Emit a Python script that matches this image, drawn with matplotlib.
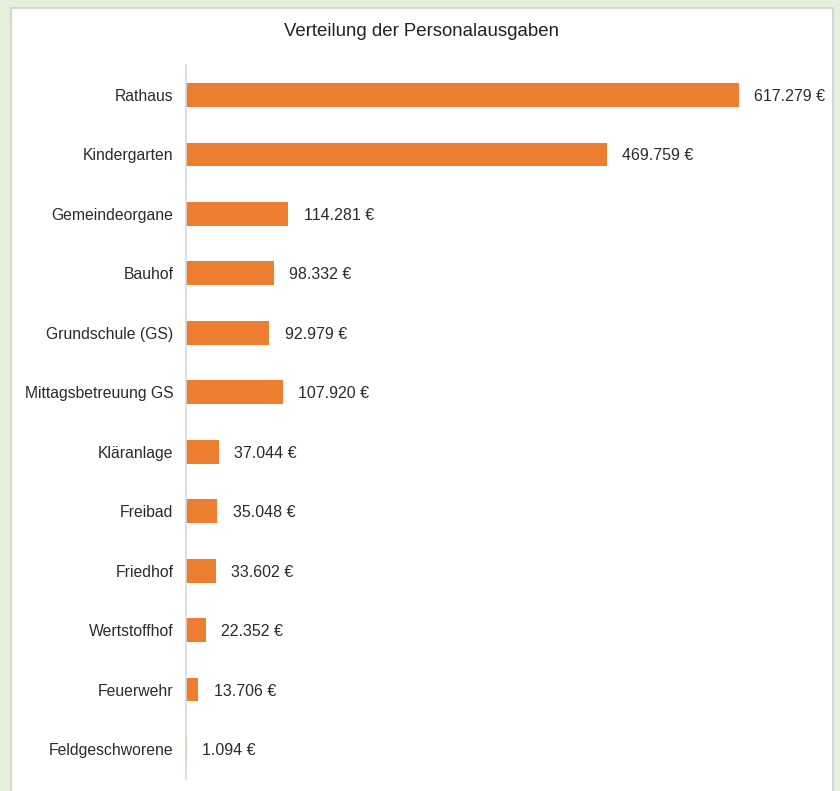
import matplotlib
matplotlib.use('Agg')
from matplotlib import pyplot as plt
from matplotlib.patches import Rectangle

categories = ['Rathaus', 'Kindergarten', 'Gemeindeorgane', 'Bauhof', 'Grundschule (GS)',
              'Mittagsbetreuung GS', 'Kläranlage', 'Freibad', 'Friedhof', 'Wertstoffhof',
              'Feuerwehr', 'Feldgeschworene']
values = [617279, 469759, 114281, 98332, 92979, 107920, 37044, 35048, 33602, 22352, 13706, 1094]
value_labels = ['617.279 €', '469.759 €', '114.281 €', '98.332 €', '92.979 €', '107.920 €',
                '37.044 €', '35.048 €', '33.602 €', '22.352 €', '13.706 €', '1.094 €']

plt.rcParams['font.family'] = ['Liberation Sans', 'DejaVu Sans']
text_color = '#2b2b2b'

fig = plt.figure(figsize=(8.4, 7.91), dpi=100)
fig.patch.set_facecolor('#e4f0dc')
# white chart panel with grey border, kept behind the axes
fig.patches.append(Rectangle((11 / 840, -0.05), (833 - 11) / 840, 1.05 - 8 / 791,
                             transform=fig.transFigure, facecolor='white',
                             edgecolor='#d0d0d0', linewidth=1.2, zorder=-5))

ax = fig.add_axes([186 / 840, 12.3 / 791, 614 / 840, 713.4 / 791])
ax.set_zorder(1)
ax.set_facecolor('none')
pos = list(range(len(categories)))
ax.barh(pos, values, height=0.40, color='#ED7D31')
ax.set_ylim(len(categories) - 0.5, -0.5)
ax.set_xlim(0, 685370)
ax.set_yticks(pos)
ax.set_yticklabels(categories, fontsize=11.3, color=text_color, va='center_baseline')
ax.tick_params(axis='y', length=0, pad=9)
ax.set_xticks([])
for s in ['top', 'right', 'bottom']:
    ax.spines[s].set_visible(False)
ax.spines['left'].set_color('#d9d9d9')
ax.spines['left'].set_linewidth(1.2)

for p, v, lab in zip(pos, values, value_labels):
    ax.annotate(lab, (v, p), xytext=(11, 0), textcoords='offset points',
                va='center_baseline', ha='left', fontsize=11.5, color=text_color)

fig.text(422 / 840, 1 - 32 / 791, 'Verteilung der Personalausgaben', ha='center',
         va='center', fontsize=13.4, color='#222222')

fig.savefig('out.png', dpi=100, facecolor=fig.get_facecolor())
